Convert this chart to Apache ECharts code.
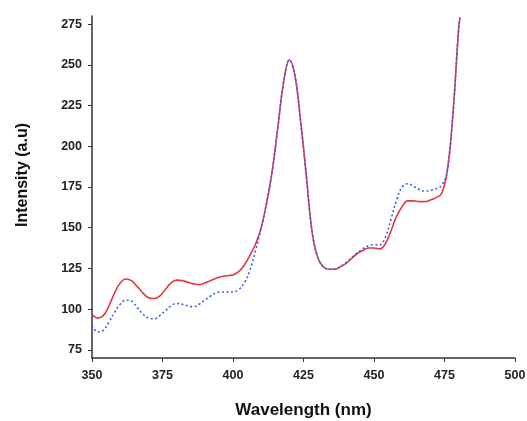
<!DOCTYPE html>
<html>
<head>
<meta charset="utf-8">
<script src="https://cdn.jsdelivr.net/npm/echarts@6/dist/echarts.min.js"></script>
<style>
  html, body { margin: 0; padding: 0; background: #fff; }
  #chart { width: 527px; height: 421px; }
</style>
</head>
<body>
<div id="chart"></div>
<script>
// Emission spectra: wavelength (nm) vs intensity (a.u)
const wavelengths = [350, 352, 354, 356, 358, 360, 362, 364, 366, 368, 370, 372, 374, 376, 378, 380,
  382, 384, 386, 388, 390, 392, 394, 396, 398, 400, 402, 404, 406, 408, 410, 412, 414, 416, 418, 420,
  422, 424, 426, 428, 430, 432, 434, 436, 438, 440, 442, 444, 446, 448, 450, 452, 454, 456, 458, 460,
  462, 464, 466, 468, 470, 472, 474, 476, 478, 480, 480.5];

const solidSeries = [97, 94.5, 96, 102, 110, 116, 118.5, 117.5, 114, 110, 107, 106.5, 108, 112, 116, 117.8,
  117.5, 116.5, 115.5, 115, 116, 117.5, 119, 120, 120.5, 121, 123, 127, 133, 140, 150, 166, 186, 213, 240, 253,
  243, 215, 182, 148, 132, 126, 124.5, 124.5, 126, 128, 131, 134, 136, 137.5, 137.5, 137, 140, 148, 157, 163,
  166.5, 166.5, 166, 166, 167, 168.5, 171, 185, 220, 272, 279];

const dottedSeries = [90, 86, 87, 92, 98, 103, 105.5, 105, 101, 97, 94.5, 94, 96, 99, 102, 103.5,
  103, 102, 101.5, 103, 105.5, 108, 110, 110.5, 110.5, 110.5, 112, 116, 124, 136, 150, 166, 186, 213, 240, 253,
  243, 215, 182, 148, 132, 126, 124.5, 124.5, 126, 128.5, 131.5, 134.5, 137, 139, 139.5, 139.5, 144, 155, 167, 175,
  177, 175.5, 173.5, 172.5, 173, 174, 176, 185, 220, 272, 279];

const yTicks = [75, 100, 125, 150, 175, 200, 225, 250, 275];

const pairs = (ys) => wavelengths.map((x, i) => [x, ys[i]]);

const axisColor = '#333';
const family = 'Liberation Sans, Arial, sans-serif';
const labelFont = { fontFamily: family, fontWeight: 'bold', fontSize: 12.5, color: '#222' };

const chart = echarts.init(document.getElementById('chart'), null, { renderer: 'canvas' });
chart.setOption({
  animation: false,
  backgroundColor: '#fff',
  grid: { left: 92, right: 12, top: 16, bottom: 63, containLabel: false, outerBoundsMode: 'none' },
  xAxis: {
    type: 'value',
    min: 350, max: 500, interval: 25,
    name: 'Wavelength (nm)',
    nameLocation: 'middle',
    nameGap: 44,
    nameMoveOverlap: false,
    nameTextStyle: { fontFamily: family, fontWeight: 'bold', fontSize: 17, color: '#111' },
    axisLine: { show: true, lineStyle: { color: axisColor, width: 1.5 } },
    axisTick: { show: true, inside: false, length: 4, lineStyle: { color: axisColor } },
    axisLabel: Object.assign({ margin: 11 }, labelFont),
    splitLine: { show: false }
  },
  yAxis: {
    type: 'value',
    min: 70, max: 280,
    name: 'Intensity (a.u)',
    nameLocation: 'middle',
    nameGap: 61,
    nameMoveOverlap: false,
    nameTextStyle: { fontFamily: family, fontWeight: 'bold', fontSize: 16, color: '#111', padding: [0, 0, 0, 24] },
    axisLine: { show: true, lineStyle: { color: axisColor, width: 1.5 } },
    axisTick: { show: true, length: 4, customValues: yTicks, lineStyle: { color: axisColor } },
    axisLabel: Object.assign({ margin: 10, customValues: yTicks }, labelFont),
    splitLine: { show: false }
  },
  series: [
    {
      type: 'line',
      data: pairs(solidSeries),
      smooth: 0.4,
      showSymbol: false,
      lineStyle: { color: '#e23a3f', width: 1.6, type: 'solid' },
      z: 2
    },
    {
      type: 'line',
      data: pairs(dottedSeries),
      smooth: 0.4,
      showSymbol: false,
      lineStyle: { color: '#3d5cf0', width: 1.6, type: [2, 2.5] },
      z: 3
    }
  ]
});
</script>
</body>
</html>
